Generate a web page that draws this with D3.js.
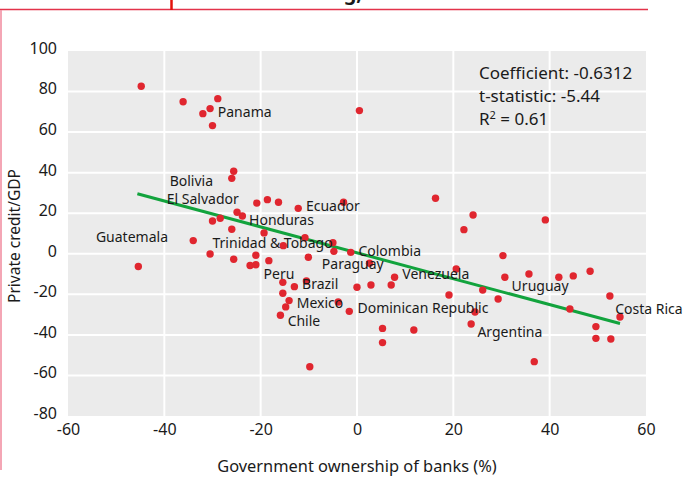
<!DOCTYPE html>
<html><head><meta charset="utf-8">
<script src="https://cdn.jsdelivr.net/npm/d3@7"></script>
<style>body{margin:0;background:#fff} text{font-family:'Noto Sans',sans-serif;fill:#1a1a1a}</style>
</head><body>
<script>
// Data: government ownership of banks (%) vs private credit/GDP
const ownership = [-44.8,-36.1,-28.9,-30.5,-32.0,-30.0,0.5,-25.6,-26.0,-20.8,-18.6,-16.3,-12.2,-2.8,-24.9,-23.8,-28.4,-30.0,-26.0,-19.3,-10.8,16.3,24.1,22.2,39.1,-34.0,-5.0,-15.3,-4.8,-1.3,-30.5,-21.0,-10.1,-25.6,-18.3,-22.2,-21.0,-45.4,2.6,-15.4,-13.0,-10.5,0.0,2.9,-15.4,-14.1,-3.9,-14.8,-1.6,-15.9,-9.8,7.8,7.1,20.6,19.1,26.1,30.3,30.7,29.3,24.5,23.7,5.3,11.8,5.3,35.7,41.9,44.9,48.4,44.2,52.5,54.6,49.6,49.6,52.7,36.8];
const credit = [82.6,75.0,76.5,71.6,69.1,63.2,70.6,40.7,37.2,25.0,26.7,25.4,22.4,25.4,20.5,18.6,17.5,16.2,12.1,10.3,7.9,27.4,19.1,11.9,16.7,6.5,5.5,4.0,1.2,0.7,-0.1,-0.7,-1.7,-2.7,-3.4,-5.8,-5.4,-6.3,-4.7,-14.1,-16.2,-13.4,-16.5,-15.4,-19.5,-23.1,-23.8,-26.2,-28.4,-30.3,-55.7,-11.6,-15.4,-7.5,-20.3,-17.9,-0.9,-11.6,-22.3,-28.7,-34.6,-36.8,-37.6,-43.8,-10.0,-11.6,-10.9,-8.6,-27.2,-20.8,-31.2,-35.9,-41.7,-42.0,-53.2];
const fitX = [-45.6, 54.6];
const fitY = [29.6, -34.4];
const labelNames = ["Panama","Bolivia","El Salvador","Ecuador","Honduras","Guatemala","Trinidad & Tobago","Colombia","Paraguay","Venezuela","Peru","Brazil","Mexico","Chile","Dominican Republic","Uruguay","Argentina","Costa Rica"];
const labelX = [-28.9,-38.9,-39.5,-10.6,-22.4,-54.2,-30.0,0.3,-7.3,9.4,-19.4,-11.4,-12.5,-14.4,0.1,32.1,25.0,53.6];
const labelY = [69.9,35.9,27.0,23.7,16.5,8.1,5.4,1.4,-4.9,-9.9,-9.8,-14.8,-24.2,-33.3,-26.7,-15.9,-38.5,-27.1];
const xTicks = [-60,-40,-20,0,20,40,60];
const yTicks = [100,80,60,40,20,0,-20,-40,-60,-80];
const statsLines = ["Coefficient: -0.6312","t-statistic: -5.44"];
const r2Text = "0.61";

const W = 684, H = 478;
const svg = d3.select("body").append("svg").attr("width",W).attr("height",H);

// decorations
svg.append("text").attr("x",362).attr("y",0).attr("text-anchor","end")
  .style("font-weight","bold").style("font-size","20px").text("Credit and state banking,");
svg.append("line").attr("x1",0).attr("x2",648).attr("y1",9.5).attr("y2",9.5).attr("stroke","#e3334a").attr("stroke-width",1.6);
svg.append("line").attr("x1",171.5).attr("x2",171.5).attr("y1",0).attr("y2",10).attr("stroke","#e3120b").attr("stroke-width",2.5);
svg.append("line").attr("x1",1).attr("x2",1).attr("y1",10).attr("y2",470).attr("stroke","#f290a3").attr("stroke-width",1.6);

const x = d3.scaleLinear().domain([-60,60]).range([68,646]);
const y = d3.scaleLinear().domain([-80,100]).range([416,51]);

svg.append("rect").attr("x",x(-60)).attr("y",y(100)).attr("width",x(60)-x(-60)).attr("height",y(-80)-y(100)).attr("fill","#ebebeb");
const g = svg.append("g");
g.selectAll("line.gx").data(xTicks.slice(1,-1)).join("line")
  .attr("x1",d=>x(d)).attr("x2",d=>x(d)).attr("y1",y(100)).attr("y2",y(-80)).attr("stroke","#fff").attr("stroke-width",2);
g.selectAll("line.gy").data(yTicks.slice(1,-1)).join("line")
  .attr("y1",d=>y(d)).attr("y2",d=>y(d)).attr("x1",x(-60)).attr("x2",x(60)).attr("stroke","#fff").attr("stroke-width",2);

// axes (labels only)
const xAxis = d3.axisBottom(x).tickValues(xTicks).tickSize(0).tickPadding(8).tickFormat(d3.format("d"));
const xa = svg.append("g").attr("transform",`translate(0,${y(-80)})`).call(xAxis);
xa.select(".domain").remove();
xa.selectAll("text").style("font-size","16px").style("font-family","'Noto Sans',sans-serif").attr("fill","#1a1a1a").text(d=>d<0?"-"+Math.abs(d):d);
const yAxis = d3.axisLeft(y).tickValues(yTicks).tickSize(0).tickPadding(11);
const ya = svg.append("g").attr("transform",`translate(${x(-60)},0)`).call(yAxis);
ya.select(".domain").remove();
ya.selectAll("text").style("font-size","16px").style("font-family","'Noto Sans',sans-serif").attr("fill","#1a1a1a").attr("dy","0.15em").text(d=>d<0?"-"+Math.abs(d):d);

// axis titles
svg.append("text").attr("x",357).attr("y",472).attr("text-anchor","middle").style("font-size","16.4px").text("Government ownership of banks (%)");
svg.append("text").attr("transform","translate(20,236) rotate(-90)").attr("text-anchor","middle").style("font-size","15.5px").text("Private credit/GDP");

// regression line
g.append("line").attr("x1",x(fitX[0])).attr("y1",y(fitY[0])).attr("x2",x(fitX[1])).attr("y2",y(fitY[1]))
  .attr("stroke","#12a33d").attr("stroke-width",3);

// points
const pts = ownership.map((v,i)=>({x:v,y:credit[i]}));
g.selectAll("circle").data(pts).join("circle")
  .attr("cx",d=>x(d.x)).attr("cy",d=>y(d.y)).attr("r",3.7).attr("fill","#e0262f");

// labels
g.selectAll("text.lab").data(labelNames).join("text").attr("class","lab")
  .attr("x",(d,i)=>x(labelX[i])).attr("y",(d,i)=>y(labelY[i])).attr("dy","0.35em")
  .style("font-size","14px").text(d=>d);

// stats
const st = svg.append("g");
statsLines.forEach((s,i)=>{
  st.append("text").attr("x",479).attr("y",79+i*23).style("font-size","17px").text(s);
});
const r2 = st.append("text").attr("x",479).attr("y",125).style("font-size","17px");
r2.append("tspan").text("R");
r2.append("tspan").attr("dy",-6).style("font-size","11px").text("2");
r2.append("tspan").attr("dy",6).text(" = "+r2Text);
</script>
</body></html>
